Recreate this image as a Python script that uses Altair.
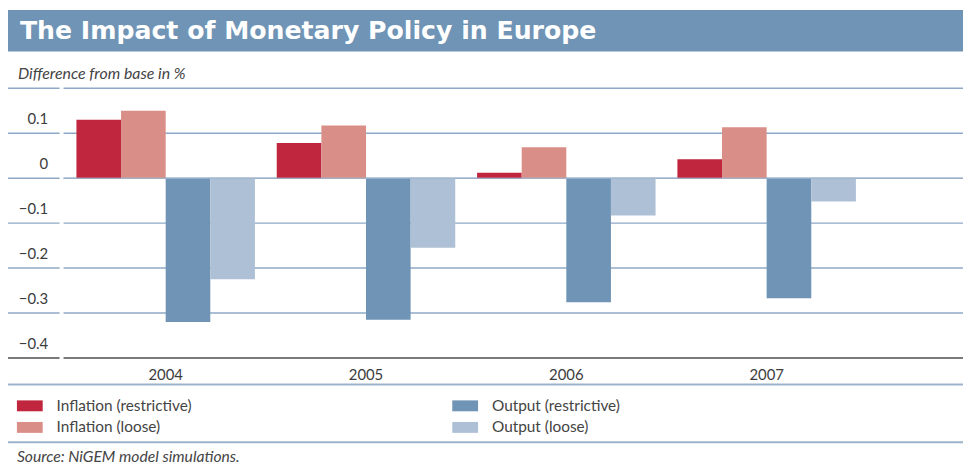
import altair as alt
import pandas as pd

years = ["2004", "2005", "2006", "2007"]
inflation_restrictive = [0.13, 0.078, 0.012, 0.042]
inflation_loose = [0.15, 0.117, 0.069, 0.113]
output_restrictive = [-0.32, -0.315, -0.276, -0.267]
output_loose = [-0.225, -0.155, -0.083, -0.052]

series_names = ["Inflation (restrictive)", "Inflation (loose)", "Output (restrictive)", "Output (loose)"]
series_colors = ["#c0273f", "#d98e87", "#6f94b5", "#aec0d5"]

grid_values = [0.2, 0.1, 0.0, -0.1, -0.2, -0.3]
axis_bottom = [-0.4]
y_ticks = [0.2, 0.1, 0.0, -0.1, -0.2, -0.3, -0.4]

title_text = "The Impact of Monetary Policy in Europe"
subtitle_text = "Difference from base in %"
source_text = "Source: NiGEM model simulations."

values_by_series = [inflation_restrictive, inflation_loose, output_restrictive, output_loose]
rows = []
for name, vals in zip(series_names, values_by_series):
    for yr, v in zip(years, vals):
        rows.append({"year": yr, "series": name, "value": v})
df = pd.DataFrame(rows)

W = 907
H = 272
FONT = "Lato"
TXT = "#3c3c3c"

yscale = alt.Scale(domain=[-0.4, 0.2], nice=False, zero=False)
one = pd.DataFrame({"t": [title_text]})

band = alt.Chart(one).mark_rect(color="#6f94b5").encode(
    x=alt.value(-56), x2=alt.value(W), y=alt.value(-79), y2=alt.value(-37)
)
title = alt.Chart(one).mark_text(
    text=title_text, font="DejaVu Sans", fontWeight="bold", fontSize=25.4,
    color="white", align="left", baseline="alphabetic"
).encode(x=alt.value(-44), y=alt.value(-50))
subtitle = alt.Chart(one).mark_text(
    text=subtitle_text, font=FONT, fontStyle="italic", fontSize=16,
    color="#444444", align="left", baseline="middle"
).encode(x=alt.value(-46), y=alt.value(-14))

gdf = pd.DataFrame({"v": grid_values})
bdf = pd.DataFrame({"v": axis_bottom})
grid_main = alt.Chart(gdf).mark_rule(color="#8ea8c6", strokeWidth=1.5).encode(
    y=alt.Y("v:Q", scale=yscale), x=alt.value(0), x2=alt.value(W)
)
grid_left = alt.Chart(gdf).mark_rule(color="#8ea8c6", strokeWidth=1.5).encode(
    y=alt.Y("v:Q", scale=yscale), x=alt.value(-57), x2=alt.value(-4)
)
bottom_main = alt.Chart(bdf).mark_rule(color="#7a7a7a", strokeWidth=2).encode(
    y=alt.Y("v:Q", scale=yscale), x=alt.value(0), x2=alt.value(W)
)
bottom_left = alt.Chart(bdf).mark_rule(color="#7a7a7a", strokeWidth=2).encode(
    y=alt.Y("v:Q", scale=yscale), x=alt.value(-57), x2=alt.value(-4)
)

bars = alt.Chart(df).mark_bar().encode(
    x=alt.X(
        "year:N", sort=years,
        scale=alt.Scale(domain=years, range=[2, 810], paddingInner=0.109, paddingOuter=0.0545),
        axis=alt.Axis(title=None, domain=False, ticks=False, tickSize=0, labelAngle=0,
                      labelFont=FONT, labelFontSize=15, labelColor=TXT,
                      labelBaseline="middle", labelPadding=17),
    ),
    xOffset=alt.XOffset("series:N", sort=series_names,
                        scale=alt.Scale(domain=series_names, paddingInner=0, paddingOuter=0)),
    y=alt.Y(
        "value:Q", scale=yscale,
        axis=alt.Axis(title=None, domain=False, ticks=False, tickSize=0, grid=False,
                      values=y_ticks, labelFont=FONT, labelFontSize=15, labelColor=TXT,
                      labelBaseline="middle", labelOffset=-15, labelPadding=16,
                      labelExpr="datum.value > 0.15 ? '' : (abs(datum.value) < 0.001 ? '0' : replace(format(datum.value, '.1f'), '-', '\u2212'))"),
    ),
    color=alt.Color(
        "series:N",
        sort=series_names,
        scale=alt.Scale(domain=series_names, range=series_colors),
        legend=alt.Legend(
            title=None, orient="none", legendX=-47, legendY=307, columns=2,
            direction="vertical",
            symbolType="M-1,-0.423H1V0.423H-1Z", symbolSize=676, symbolStrokeWidth=0,
            symbolOpacity=1, labelFont=FONT, labelFontSize=15.5, labelColor="#444444",
            labelOffset=14, columnPadding=262, rowPadding=-5, padding=0,
        ),
    ),
)

zero_line = alt.Chart(pd.DataFrame({"v": [0.0]})).mark_rule(
    color="#a3b8cd", strokeWidth=1.5, opacity=0.7
).encode(y=alt.Y("v:Q", scale=yscale), x=alt.value(0), x2=alt.value(W))

seps = alt.Chart(one).mark_rule(color="#9cb3cc", strokeWidth=2).encode(
    x=alt.value(-57), x2=alt.value(W), y=alt.value(298.7)
)
seps2 = alt.Chart(one).mark_rule(color="#9cb3cc", strokeWidth=2).encode(
    x=alt.value(-57), x2=alt.value(W), y=alt.value(357)
)
source = alt.Chart(one).mark_text(
    text=source_text, font=FONT, fontStyle="italic", fontSize=15.8,
    color="#444444", align="left", baseline="middle"
).encode(x=alt.value(-47), y=alt.value(372))

chart = alt.layer(
    band, title, subtitle, grid_left, grid_main, bottom_left, bottom_main,
    bars, zero_line, seps, seps2, source
).properties(
    width=W, height=H,
    autosize=alt.AutoSizeParams(type="none"),
    padding={"left": 56, "top": 79, "right": 0, "bottom": 109},
).configure_view(stroke=None)

chart.save("out.html", embed_options={"renderer": "svg", "actions": False})
